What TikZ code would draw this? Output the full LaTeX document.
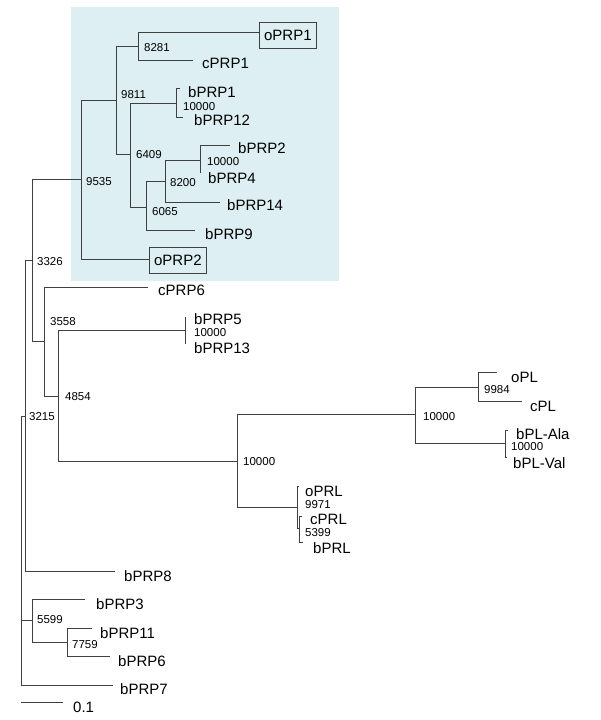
\documentclass[tikz,border=0pt]{standalone}
\usepackage{fontspec}
\setmainfont{Liberation Sans}
\definecolor{cladebg}{RGB}{221,239,242}
\definecolor{treeline}{RGB}{64,64,64}

\begin{document}
\begin{tikzpicture}[
  branch/.style={draw=treeline, line width=0.9pt},
  leaf/.style={anchor=west, inner sep=0pt, font=\fontsize{15pt}{17pt}\selectfont},
  boot/.style={anchor=west, inner sep=0pt, font=\fontsize{11.5pt}{13pt}\selectfont},
  boxed/.style={leaf, draw=treeline, line width=0.8pt, fill=cladebg,
    minimum width=57pt, minimum height=26pt}
]
  \useasboundingbox (0pt,0pt) rectangle (600pt,-720pt);

  %% shaded clade
  \fill[cladebg] (71pt,-7pt) rectangle (339pt,-281pt);

  %% internal nodes
  \coordinate (root)   at (21pt,-550pt);
  \coordinate (n3215)  at (25pt,-416pt);
  \coordinate (n3326)  at (32pt,-260pt);
  \coordinate (n9535)  at (81pt,-179pt);
  \coordinate (n9811)  at (116pt,-100pt);
  \coordinate (n8281)  at (138pt,-46pt);
  \coordinate (n6409)  at (130pt,-154pt);
  \coordinate (nPRP1)  at (176pt,-103pt);
  \coordinate (n6065)  at (146pt,-207pt);
  \coordinate (n8200)  at (165pt,-181pt);
  \coordinate (nPRP2)  at (200pt,-160pt);
  \coordinate (n3558)  at (44pt,-341pt);
  \coordinate (n4854)  at (58pt,-396pt);
  \coordinate (nPRP5)  at (185pt,-330pt);
  \coordinate (nPLPRL) at (237pt,-461pt);
  \coordinate (nPL)    at (415pt,-414pt);
  \coordinate (n9984)  at (478pt,-387pt);
  \coordinate (nbPL)   at (505pt,-443pt);
  \coordinate (n9971)  at (297pt,-507pt);
  \coordinate (n5399)  at (299pt,-528pt);
  \coordinate (n5599)  at (32pt,-620pt);
  \coordinate (n7759)  at (67pt,-642pt);

  %% leaf tips
  \coordinate (oPRP1-tip)   at (259pt,-32pt);
  \coordinate (cPRP1-tip)   at (193pt,-60pt);
  \coordinate (bPRP1-tip)   at (180pt,-88pt);
  \coordinate (bPRP12-tip)  at (183pt,-117pt);
  \coordinate (bPRP2-tip)   at (230pt,-145pt);
  \coordinate (bPRP4-tip)   at (200pt,-173pt);
  \coordinate (bPRP14-tip)  at (220pt,-202pt);
  \coordinate (bPRP9-tip)   at (195pt,-230pt);
  \coordinate (oPRP2-tip)   at (149pt,-259pt);
  \coordinate (cPRP6-tip)   at (148pt,-287pt);
  \coordinate (bPRP5-tip)   at (185pt,-317pt);
  \coordinate (bPRP13-tip)  at (185pt,-344pt);
  \coordinate (oPL-tip)     at (497pt,-372pt);
  \coordinate (cPL-tip)     at (522pt,-401pt);
  \coordinate (bPL-Ala-tip) at (508pt,-430pt);
  \coordinate (bPL-Val-tip) at (507pt,-457pt);
  \coordinate (oPRL-tip)    at (299pt,-486pt);
  \coordinate (cPRL-tip)    at (302pt,-516pt);
  \coordinate (bPRL-tip)    at (303pt,-542pt);
  \coordinate (bPRP8-tip)   at (115pt,-571pt);
  \coordinate (bPRP3-tip)   at (85pt,-599pt);
  \coordinate (bPRP11-tip)  at (92pt,-628pt);
  \coordinate (bPRP6-tip)   at (110pt,-656pt);
  \coordinate (bPRP7-tip)   at (113pt,-685pt);

  %% branches
  \draw[branch] (root) |- (n3215);
  \draw[branch] (root) |- (n5599);
  \draw[branch] (root) |- (bPRP7-tip);
  \draw[branch] (n3215) |- (n3326);
  \draw[branch] (n3215) |- (bPRP8-tip);
  \draw[branch] (n3326) |- (n9535);
  \draw[branch] (n3326) |- (n3558);
  \draw[branch] (n9535) |- (n9811);
  \draw[branch] (n9535) |- (oPRP2-tip);
  \draw[branch] (n9811) |- (n8281);
  \draw[branch] (n9811) |- (n6409);
  \draw[branch] (n8281) |- (oPRP1-tip);
  \draw[branch] (n8281) |- (cPRP1-tip);
  \draw[branch] (n6409) |- (nPRP1);
  \draw[branch] (n6409) |- (n6065);
  \draw[branch] (nPRP1) |- (bPRP1-tip);
  \draw[branch] (nPRP1) |- (bPRP12-tip);
  \draw[branch] (n6065) |- (n8200);
  \draw[branch] (n6065) |- (bPRP9-tip);
  \draw[branch] (n8200) |- (nPRP2);
  \draw[branch] (n8200) |- (bPRP14-tip);
  \draw[branch] (nPRP2) |- (bPRP2-tip);
  \draw[branch] (nPRP2) |- (bPRP4-tip);
  \draw[branch] (n3558) |- (cPRP6-tip);
  \draw[branch] (n3558) |- (n4854);
  \draw[branch] (n4854) |- (nPRP5);
  \draw[branch] (n4854) |- (nPLPRL);
  \draw[branch] (nPRP5) |- (bPRP5-tip);
  \draw[branch] (nPRP5) |- (bPRP13-tip);
  \draw[branch] (nPLPRL) |- (nPL);
  \draw[branch] (nPLPRL) |- (n9971);
  \draw[branch] (nPL) |- (n9984);
  \draw[branch] (nPL) |- (nbPL);
  \draw[branch] (n9984) |- (oPL-tip);
  \draw[branch] (n9984) |- (cPL-tip);
  \draw[branch] (nbPL) |- (bPL-Ala-tip);
  \draw[branch] (nbPL) |- (bPL-Val-tip);
  \draw[branch] (n9971) |- (oPRL-tip);
  \draw[branch] (n9971) |- (n5399);
  \draw[branch] (n5399) |- (cPRL-tip);
  \draw[branch] (n5399) |- (bPRL-tip);
  \draw[branch] (n5599) |- (bPRP3-tip);
  \draw[branch] (n5599) |- (n7759);
  \draw[branch] (n7759) |- (bPRP11-tip);
  \draw[branch] (n7759) |- (bPRP6-tip);

  %% leaf names
  \node[boxed] (oPRP1) at (259pt,-35.5pt) {oPRP1};
  \node[leaf] (cPRP1)   at (202pt,-63pt)  {cPRP1};
  \node[leaf] (bPRP1)   at (188pt,-92pt)  {bPRP1};
  \node[leaf] (bPRP12)  at (194pt,-120pt) {bPRP12};
  \node[leaf] (bPRP2)   at (238pt,-148pt) {bPRP2};
  \node[leaf] (bPRP4)   at (208pt,-178pt) {bPRP4};
  \node[leaf] (bPRP14)  at (227pt,-205pt) {bPRP14};
  \node[leaf] (bPRP9)   at (205pt,-234pt) {bPRP9};
  \node[boxed] (oPRP2) at (149pt,-260pt) {oPRP2};
  \node[leaf] (cPRP6)   at (158pt,-290pt) {cPRP6};
  \node[leaf] (bPRP5)   at (194pt,-319pt) {bPRP5};
  \node[leaf] (bPRP13)  at (194pt,-348pt) {bPRP13};
  \node[leaf] (oPL)     at (511pt,-377pt) {oPL};
  \node[leaf] (cPL)     at (530pt,-406pt) {cPL};
  \node[leaf] (bPL-Ala) at (516pt,-434pt) {bPL-Ala};
  \node[leaf] (bPL-Val) at (513pt,-463pt) {bPL-Val};
  \node[leaf] (oPRL)    at (305pt,-491pt) {oPRL};
  \node[leaf] (cPRL)    at (310pt,-519pt) {cPRL};
  \node[leaf] (bPRL)    at (313pt,-548pt) {bPRL};
  \node[leaf] (bPRP8)   at (124pt,-576pt) {bPRP8};
  \node[leaf] (bPRP3)   at (96pt,-604pt)  {bPRP3};
  \node[leaf] (bPRP11)  at (100pt,-633pt) {bPRP11};
  \node[leaf] (bPRP6)   at (118pt,-661pt) {bPRP6};
  \node[leaf] (bPRP7)   at (120pt,-689pt) {bPRP7};

  %% bootstrap values
  \node[boot] (b8281)  at (144pt,-48pt)  {8281};
  \node[boot] (b9811)  at (121pt,-95pt)  {9811};
  \node[boot] (bQ)     at (183pt,-107pt) {10000};
  \node[boot] (b6409)  at (136pt,-155pt) {6409};
  \node[boot] (bT)     at (207pt,-162pt) {10000};
  \node[boot] (b8200)  at (170pt,-183pt) {8200};
  \node[boot] (b9535)  at (86pt,-182pt)  {9535};
  \node[boot] (b6065)  at (152pt,-212pt) {6065};
  \node[boot] (b3326)  at (37pt,-262pt)  {3326};
  \node[boot] (b3558)  at (50pt,-322pt)  {3558};
  \node[boot] (bG)     at (194pt,-333pt) {10000};
  \node[boot] (b9984)  at (484pt,-390pt) {9984};
  \node[boot] (b4854)  at (65pt,-397pt)  {4854};
  \node[boot] (b3215)  at (29pt,-417pt)  {3215};
  \node[boot] (bI)     at (423pt,-417pt) {10000};
  \node[boot] (bK)     at (511pt,-447pt) {10000};
  \node[boot] (bH)     at (243pt,-462pt) {10000};
  \node[boot] (b9971)  at (305pt,-505pt) {9971};
  \node[boot] (b5399)  at (305pt,-533pt) {5399};
  \node[boot] (b5599)  at (37pt,-620pt)  {5599};
  \node[boot] (b7759)  at (72pt,-645pt)  {7759};

  %% scale bar
  \coordinate (bar-l) at (21pt,-702pt);
  \coordinate (bar-r) at (63pt,-702pt);
  \draw[branch] (bar-l) -- (bar-r);
  \node[leaf] (barlabel) at (73pt,-707pt) {0.1};

\end{tikzpicture}
\end{document}
